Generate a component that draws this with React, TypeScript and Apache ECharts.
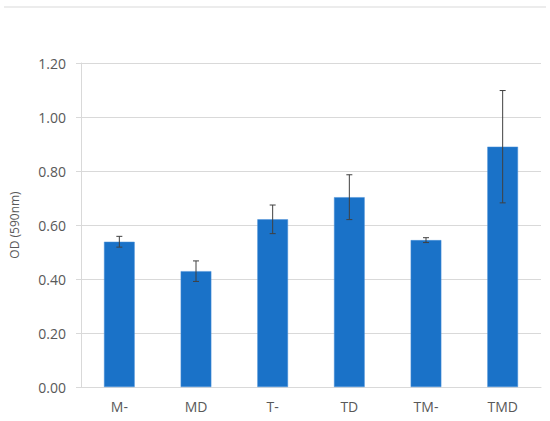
import React, { useEffect, useRef } from "react";
import * as echarts from "echarts";

const categories = ["M-", "MD", "T-", "TD", "TM-", "TMD"];
const values = [0.538, 0.429, 0.621, 0.703, 0.544, 0.89];
const errors = [0.02, 0.038, 0.053, 0.083, 0.009, 0.208];
const yTicks = [0, 0.2, 0.4, 0.6, 0.8, 1.0, 1.2];

export default function App() {
  const ref = useRef<HTMLDivElement>(null);
  useEffect(() => {
    if (!ref.current) return;
    const chart = echarts.init(ref.current, undefined, { renderer: "svg" });
    const errData = categories.map((c, i) => [i, values[i] - errors[i], values[i] + errors[i]]);
    chart.setOption({
      animation: false,
      backgroundColor: "#ffffff",
      textStyle: { fontFamily: "'Open Sans', 'Noto Sans', sans-serif" },
      grid: { left: 76, right: 9, top: 63, bottom: 34, containLabel: false },
      graphic: [
        {
          type: "line",
          shape: { x1: 4, y1: 7, x2: 546, y2: 7 },
          style: { stroke: "#d9d9d9", lineWidth: 1 },
          silent: true,
        },
      ],
      xAxis: {
        type: "category",
        data: categories,
        axisLine: { lineStyle: { color: "#d9d9d9", width: 1 } },
        axisTick: { show: false },
        axisLabel: { color: "#595959", fontSize: 14, margin: 12 },
      },
      yAxis: {
        type: "value",
        min: 0,
        max: 1.2,
        interval: 0.2,
        name: "OD (590nm)",
        nameLocation: "middle",
        nameGap: 61,
        nameRotate: 90,
        nameTextStyle: { color: "#595959", fontSize: 12 },
        axisLine: { show: true, lineStyle: { color: "#d9d9d9", width: 1 } },
        axisTick: { show: true, length: 5, lineStyle: { color: "#d9d9d9" } },
        splitLine: { show: true, lineStyle: { color: "#d9d9d9", width: 1 } },
        axisLabel: {
          color: "#595959",
          fontSize: 14,
          margin: 15,
          formatter: (v: number) => {
            const t = yTicks.find((y) => Math.abs(y - v) < 1e-6);
            return (t !== undefined ? t : v).toFixed(2);
          },
        },
      },
      series: [
        {
          type: "bar",
          data: values,
          barWidth: "40%",
          itemStyle: { color: "#1a72c8", borderColor: "#4a90d9", borderWidth: 0.5 },
        },
        {
          type: "custom",
          data: errData,
          z: 10,
          renderItem: (params: any, api: any) => {
            const x = api.coord([api.value(0), 0])[0];
            const lo = api.coord([api.value(0), api.value(1)])[1];
            const hi = api.coord([api.value(0), api.value(2)])[1];
            const cap = 3;
            const style = { stroke: "#404040", lineWidth: 1 };
            return {
              type: "group",
              children: [
                { type: "line", shape: { x1: x, y1: hi, x2: x, y2: lo }, style },
                { type: "line", shape: { x1: x - cap, y1: hi, x2: x + cap, y2: hi }, style },
                { type: "line", shape: { x1: x - cap, y1: lo, x2: x + cap, y2: lo }, style },
              ],
            };
          },
        },
      ],
    });
    return () => chart.dispose();
  }, []);
  return (
    <div
      ref={ref}
      style={{ position: "fixed", left: 0, top: 0, width: 550, height: 421, background: "#fff" }}
    />
  );
}
